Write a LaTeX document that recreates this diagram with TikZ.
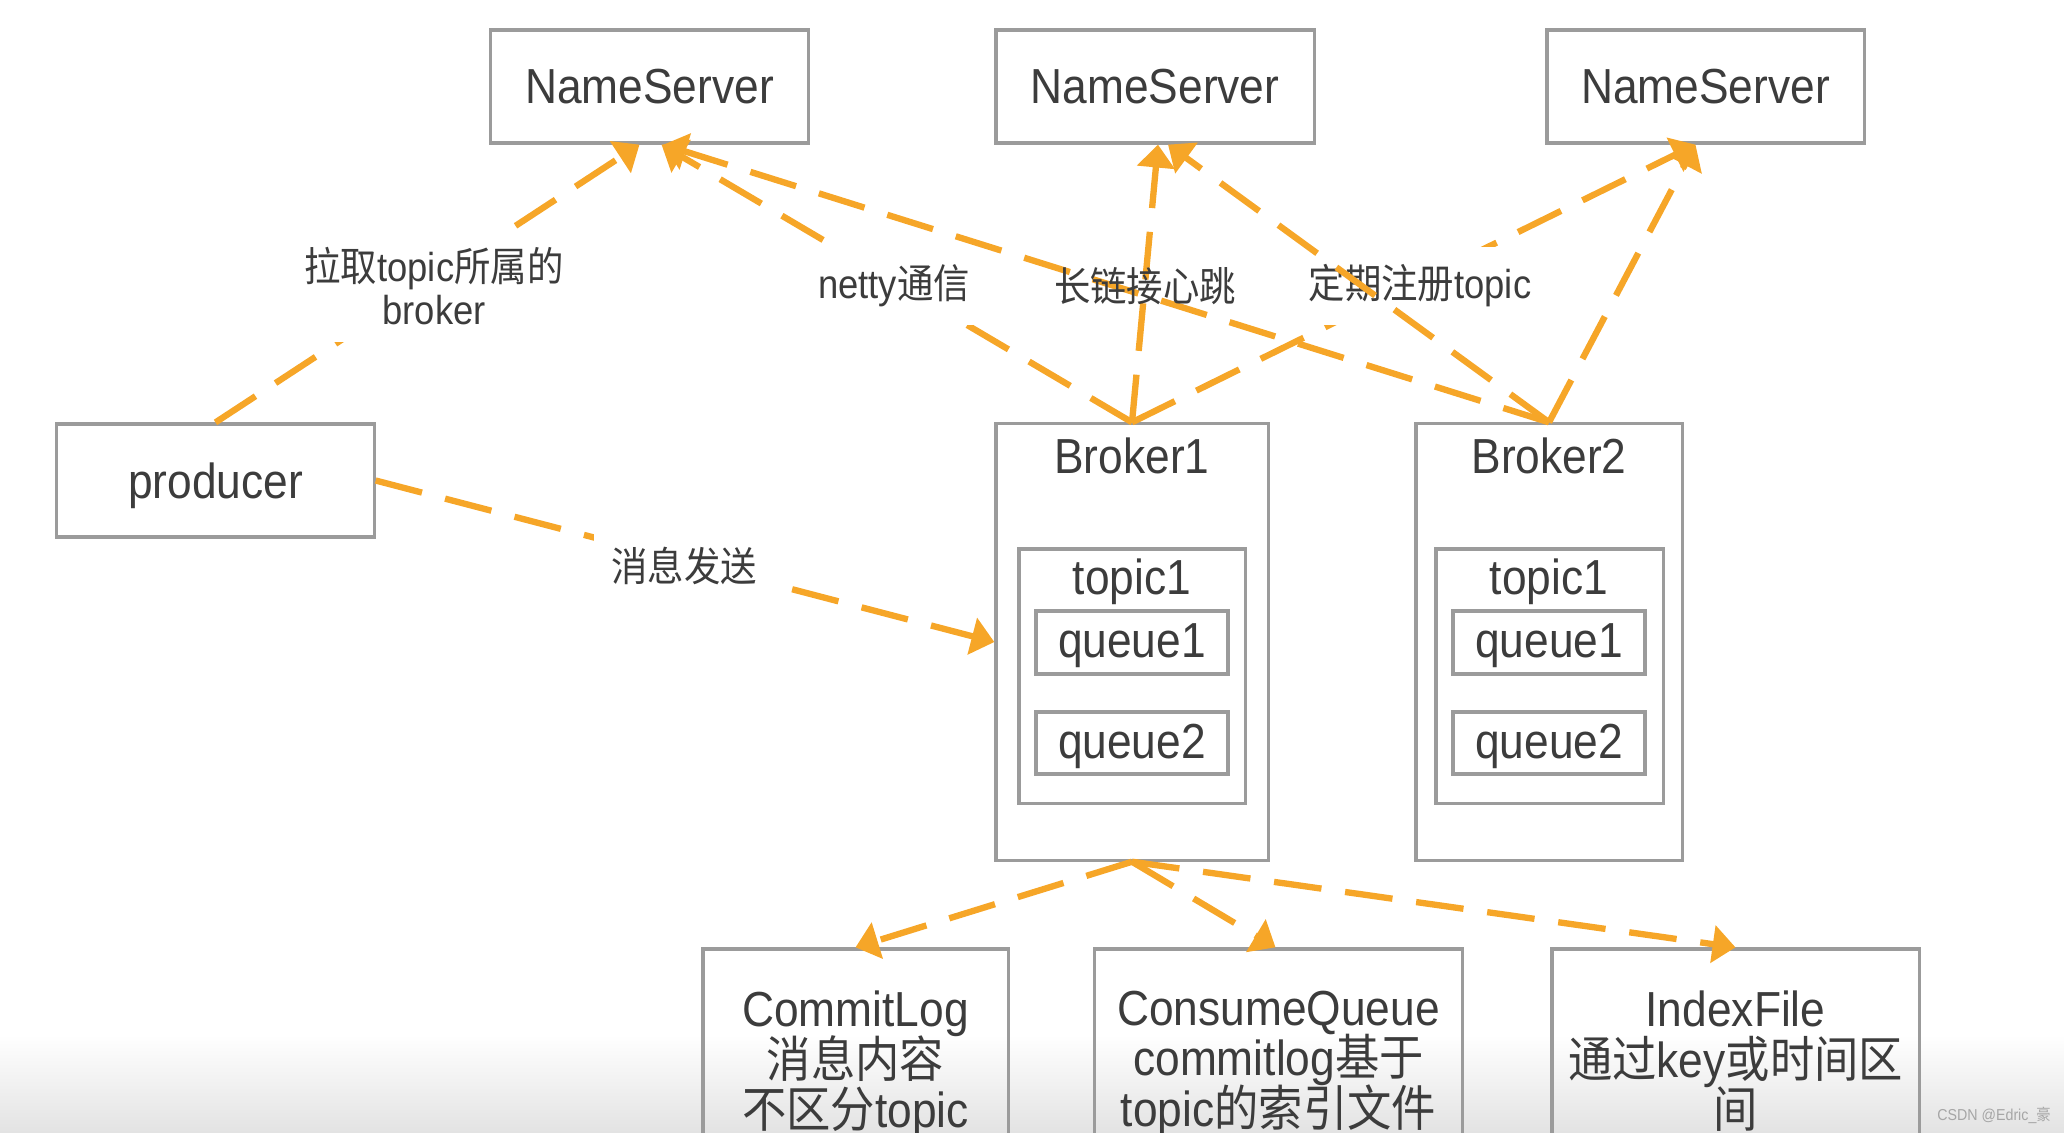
\documentclass[tikz,border=0pt]{standalone}
\usepackage{fontspec}
\setmainfont{Liberation Sans}[FakeStretch=0.9]
\newfontfamily\cjk{Noto Sans CJK SC}[FakeStretch=0.9]
\usetikzlibrary{arrows.meta}
\definecolor{arr}{RGB}{246,166,40}
\definecolor{boxc}{RGB}{155,155,155}
\definecolor{txt}{RGB}{60,60,60}
\newcommand\zhtxt[1]{{\cjk #1}}
\newcommand\tightlines{\lineskiplimit=-100pt\relax\lineskip=0pt\relax}
\begin{document}
\begin{tikzpicture}[x=0.01cm,y=-0.01cm,
  box/.style={draw=boxc, line width=0.9pt, inner sep=0pt, text=txt, font=\fontsize{14}{14}\selectfont},
  plain/.style={inner sep=0pt, text=txt, font=\fontsize{14}{14.4}\selectfont\tightlines},
  flow/.style={draw=arr, line width=1.8pt, dash pattern=on 13.6pt off 6.8pt, -{Triangle[length=6.5pt,width=10.5pt]}},
  lbl/.style={fill=white, inner sep=5pt, text=txt, align=center, font=\fontsize{11.5}{12}\selectfont\tightlines},
  lblnf/.style={inner sep=0pt, text=txt, font=\fontsize{11.5}{12}\selectfont}
]
\useasboundingbox (0,0) rectangle (2064,1132);
\clip (0,0) rectangle (2064,1132);
\shade[top color=white, bottom color=black!11] (0,1035) rectangle (2064,1132);

% NameServers
\node[box, minimum width=3.17cm, minimum height=1.13cm] (ns1) at (649.5,86.5) {NameServer};
\node[box, minimum width=3.18cm, minimum height=1.13cm] (ns2) at (1155,86.5) {NameServer};
\node[box, minimum width=3.17cm, minimum height=1.13cm] (ns3) at (1705.5,86.5) {NameServer};
% producer
\node[box, text depth=0pt, minimum width=3.17cm, minimum height=1.13cm] (prod) at (215.5,480.5) {producer};
% Broker1
\node[box, minimum width=2.72cm, minimum height=4.36cm] (b1) at (1132,642) {};
\node[plain] (b1t) at (1132,456) {Broker1};
\node[box, minimum width=2.26cm, minimum height=2.54cm] (t1) at (1132,676) {};
\node[plain] (t1t) at (1132,582) {topic1};
\node[box, text depth=1pt, minimum width=1.92cm, minimum height=0.63cm] (q11) at (1132,642.5) {queue1};
\node[box, text depth=1pt, minimum width=1.92cm, minimum height=0.62cm] (q12) at (1132,743) {queue2};
% Broker2
\node[box, minimum width=2.66cm, minimum height=4.36cm] (b2) at (1549,642) {};
\node[plain] (b2t) at (1549,456) {Broker2};
\node[box, minimum width=2.27cm, minimum height=2.54cm] (t2) at (1549.5,676) {};
\node[plain] (t2t) at (1549,582) {topic1};
\node[box, text depth=1pt, minimum width=1.92cm, minimum height=0.63cm] (q21) at (1549,642.5) {queue1};
\node[box, text depth=1pt, minimum width=1.92cm, minimum height=0.62cm] (q22) at (1549,743) {queue2};
% storage
\node[box, minimum width=3.05cm, minimum height=2.6cm] (cl) at (855.5,1079) {};
\node[plain, align=center, anchor=north] (clt) at (855.5,990) {CommitLog\\\zhtxt{消息内容}\\\zhtxt{不区分}topic};
\node[box, minimum width=3.67cm, minimum height=2.6cm] (cq) at (1278.5,1079) {};
\node[plain, align=center, anchor=north] (cqt) at (1278.5,990) {ConsumeQueue\\commitlog\zhtxt{基于}\\topic\zhtxt{的索引文件}};
\node[box, minimum width=3.67cm, minimum height=2.6cm] (ix) at (1735.5,1079) {};
\node[plain, align=center, anchor=north] (ixt) at (1735.5,990) {IndexFile\\\zhtxt{通过}key\zhtxt{或时间区}\\\zhtxt{间}};

% labelled connectors
\draw[flow] (prod.north) -- ([xshift=-0.1cm]ns1.south);
\node[lbl] (lpull) at (434,286) {\zhtxt{拉取}topic\zhtxt{所属的}\\broker};
\draw[flow] (b1.north) -- ([xshift=0.12cm]ns1.south);
\node[lbl] (lnetty) at (894,286) {netty\zhtxt{通信}};
\draw[flow] (b1.north) -- ([xshift=-0.1cm]ns3.south);
\node[lbl] (lreg) at (1420,286) {\zhtxt{定期注册}topic};
\draw[flow] (prod.east) -- (b1.west);
\node[lbl] (lsend) at (684,566) {\zhtxt{消息发送}};
% other connectors
\draw[flow] (b2.north) -- ([xshift=0.14cm]ns1.south);
\draw[flow] (b1.north) -- ([xshift=0.03cm]ns2.south);
\draw[flow] (b2.north) -- ([xshift=0.13cm]ns2.south);
\draw[flow] (b2.north) -- ([xshift=-0.1cm]ns3.south);
\node[lblnf] (lbeat) at (1145,286) {\zhtxt{长链接心跳}};
\draw[flow] (b1.south) -- (cl.north);
\draw[flow] (b1.south) -- ([xshift=-0.03cm]cq.north);
\draw[flow] (b1.south) -- (ix.north);

\node[inner sep=0pt, text=black!35, font=\fontsize{4.5}{5}\selectfont] (wm) at (1994,1115) {CSDN @Edric\_\zhtxt{豪}};
\end{tikzpicture}
\end{document}
